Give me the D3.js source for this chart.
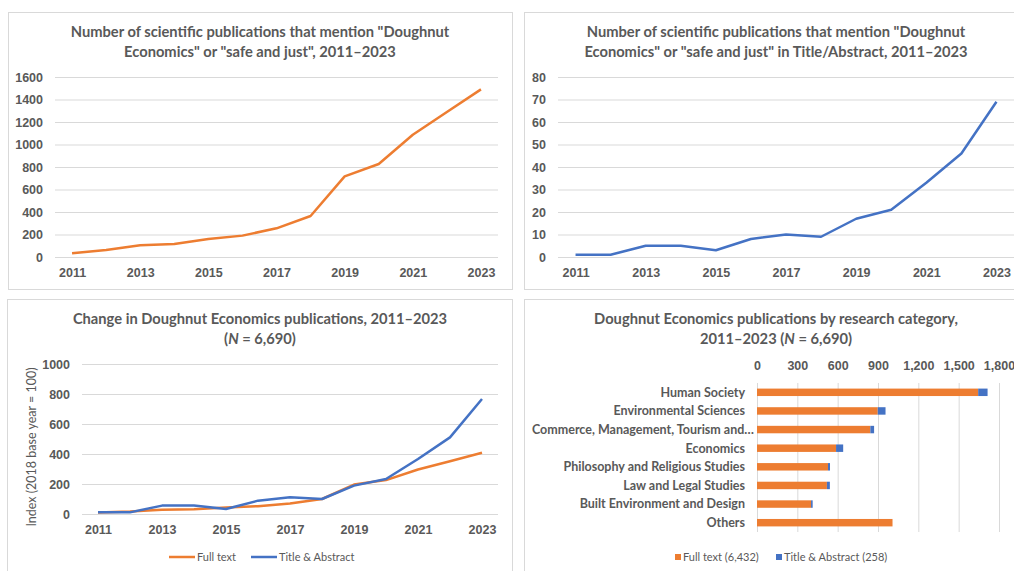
<!DOCTYPE html>
<html>
<head>
<meta charset="utf-8">
<script src="https://cdn.jsdelivr.net/npm/d3@7"></script>
<style>
  body { margin: 0; background: #fff; }
  svg { font-family: Lato, "Open Sans", sans-serif; }
  .title { font-size: 14.7px; font-weight: bold; fill: #595959; }
  .tick text { font-size: 12.5px; font-weight: bold; fill: #595959; }
  .tick line { stroke: #d9d9d9; }
  .legend { font-size: 11px; fill: #595959; }
</style>
</head>
<body>
<div id="chart"></div>
<script>
// years shared by the three line charts
var years = ["2011","2012","2013","2014","2015","2016","2017","2018","2019","2020","2021","2022","2023"];
var yearLabels = ["2011","2013","2015","2017","2019","2021","2023"];

// publications mentioning the terms anywhere in the text
var fullText = [33, 62, 104, 116, 160, 190, 255, 364, 717, 827, 1087, 1289, 1490];
// publications mentioning the terms in title / abstract
var titleAbstract = [1, 1, 5, 5, 3, 8, 10, 9, 17, 21, 33, 46, 69];

// index values (2018 = 100)
var fullTextIndex = [10, 17, 29, 32, 44, 52, 70, 100, 196, 226, 297, 352, 408];
var titleAbstractIndex = [11, 11, 56, 56, 33, 89, 111, 100, 189, 233, 367, 511, 767];

// research categories
var categories = ["Human Society", "Environmental Sciences", "Commerce, Management, Tourism and…",
  "Economics", "Philosophy and Religious Studies", "Law and Legal Studies",
  "Built Environment and Design", "Others"];
var catFullText = [1645, 898, 843, 588, 528, 520, 402, 1008];
var catTitleAbstract = [70, 58, 28, 53, 15, 22, 12, 0];

var orange = "#ED7D31";
var blue = "#4472C4";

var svg = d3.select("#chart").append("svg")
  .attr("width", 1014)
  .attr("height", 571);

// panel frames
svg.append("rect").attr("x", 8.5).attr("y", 12.5).attr("width", 504).attr("height", 277)
  .attr("fill", "#fff").attr("stroke", "#d9d9d9");
svg.append("rect").attr("x", 524.5).attr("y", 12.5).attr("width", 500).attr("height", 277)
  .attr("fill", "#fff").attr("stroke", "#d9d9d9");
svg.append("rect").attr("x", 7.5).attr("y", 299.5).attr("width", 505).attr("height", 290)
  .attr("fill", "#fff").attr("stroke", "#d9d9d9");
svg.append("rect").attr("x", 524.5).attr("y", 299.5).attr("width", 500).attr("height", 290)
  .attr("fill", "#fff").attr("stroke", "#d9d9d9");

function title(cx, y, lines) {
  var t = svg.append("text").attr("class", "title").attr("text-anchor", "middle");
  lines.forEach(function(line, i) {
    var ts = t.append("tspan").attr("x", cx).attr("y", y + i * 20);
    line.forEach(function(part) {
      ts.append("tspan").attr("font-style", part.italic ? "italic" : null).text(part.t);
    });
  });
}

// simple line chart
function lineChart(o) {
  var x = d3.scalePoint().domain(years).range([o.left, o.right]).padding(0.5);
  var y = d3.scaleLinear().domain([0, o.max]).range([o.bottom, o.top]);

  var yAxis = svg.append("g")
    .attr("transform", `translate(${o.left},0)`)
    .call(d3.axisLeft(y).tickValues(d3.range(0, o.max + 1, o.step)).tickFormat(d3.format("d"))
      .tickSize(-(o.right - o.left)).tickPadding(12));
  yAxis.select(".domain").remove();

  var xAxis = svg.append("g")
    .attr("transform", `translate(0,${o.bottom})`)
    .call(d3.axisBottom(x).tickValues(yearLabels).tickSize(0).tickPadding(11));
  xAxis.select(".domain").remove();

  o.series.forEach(function(s) {
    svg.append("path")
      .datum(s.values)
      .attr("fill", "none")
      .attr("stroke", s.color)
      .attr("stroke-width", 2.5)
      .attr("stroke-linejoin", "round")
      .attr("d", d3.line().x((d, i) => x(years[i])).y(d => y(d)));
  });
}

// top-left
title(260, 37, [[{t: 'Number of scientific publications that mention "Doughnut'}],
  [{t: 'Economics" or "safe and just", 2011–2023'}]]);
lineChart({left: 55, right: 498, top: 77, bottom: 257, max: 1600, step: 200,
  series: [{values: fullText, color: orange}]});

// top-right
title(776, 37, [[{t: 'Number of scientific publications that mention "Doughnut'}],
  [{t: 'Economics" or "safe and just" in Title/Abstract, 2011–2023'}]]);
lineChart({left: 558, right: 1014, top: 77, bottom: 257, max: 80, step: 10,
  series: [{values: titleAbstract, color: blue}]});

// bottom-left
title(260, 324, [[{t: 'Change in Doughnut Economics publications, 2011–2023'}],
  [{t: '('}, {t: 'N', italic: true}, {t: ' = 6,690)'}]]);
lineChart({left: 82, right: 498, top: 364, bottom: 514, max: 1000, step: 200,
  series: [{values: fullTextIndex, color: orange}, {values: titleAbstractIndex, color: blue}]});

svg.append("text")
  .attr("transform", "rotate(-90)")
  .attr("x", -447)
  .attr("y", 36)
  .attr("text-anchor", "middle")
  .attr("font-size", "12.5px")
  .attr("fill", "#595959")
  .text("Index (2018 base year = 100)");

var legend1 = [{name: "Full text", color: orange, x: 169}, {name: "Title & Abstract", color: blue, x: 251}];
legend1.forEach(function(l) {
  svg.append("line").attr("x1", l.x).attr("x2", l.x + 26).attr("y1", 557).attr("y2", 557)
    .attr("stroke", l.color).attr("stroke-width", 2.5);
  svg.append("text").attr("class", "legend").attr("x", l.x + 28).attr("y", 561).text(l.name);
});

// bottom-right: stacked bars
title(776, 324, [[{t: 'Doughnut Economics publications by research category,'}],
  [{t: '2011–2023 ('}, {t: 'N', italic: true}, {t: ' = 6,690)'}]]);

var bx = d3.scaleLinear().domain([0, 1800]).range([757, 999]);
var by = d3.scaleBand().domain(categories).range([383, 532]).paddingInner(0.6).paddingOuter(0.3);

var topAxis = svg.append("g")
  .attr("transform", "translate(0,383)")
  .call(d3.axisTop(bx).tickValues(d3.range(0, 1801, 300)).tickFormat(d3.format(","))
    .tickSize(-149).tickPadding(13));
topAxis.select(".domain").remove();

svg.append("g").selectAll("rect")
  .data(categories)
  .enter()
  .append("rect")
  .attr("x", bx(0))
  .attr("y", d => by(d))
  .attr("width", (d, i) => bx(catFullText[i]) - bx(0))
  .attr("height", by.bandwidth())
  .attr("fill", orange);

svg.append("g").selectAll("rect")
  .data(categories)
  .enter()
  .append("rect")
  .attr("x", (d, i) => bx(catFullText[i]))
  .attr("y", d => by(d))
  .attr("width", (d, i) => bx(catFullText[i] + catTitleAbstract[i]) - bx(catFullText[i]))
  .attr("height", by.bandwidth())
  .attr("fill", blue);

svg.append("g").selectAll("text")
  .data(categories)
  .enter()
  .append("text")
  .attr("x", d => d.endsWith("…") ? 754 : 745)
  .attr("y", d => by(d) + by.bandwidth() / 2)
  .attr("dy", "0.35em")
  .attr("text-anchor", "end")
  .attr("font-size", "12.5px")
  .attr("font-weight", "bold")
  .attr("fill", "#595959")
  .text(d => d);

var legend2 = [{name: "Full text (6,432)", color: orange, x: 675}, {name: "Title & Abstract (258)", color: blue, x: 776}];
legend2.forEach(function(l) {
  svg.append("rect").attr("x", l.x).attr("y", 554).attr("width", 6).attr("height", 6).attr("fill", l.color);
  svg.append("text").attr("class", "legend").attr("x", l.x + 8).attr("y", 561).text(l.name);
});
</script>
</body>
</html>
